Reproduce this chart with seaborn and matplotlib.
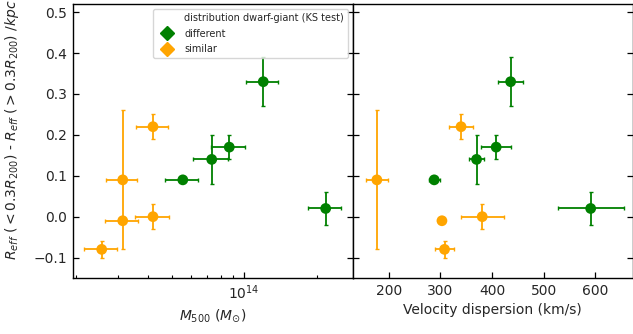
import numpy as np
import pandas as pd
import matplotlib
matplotlib.use("Agg")
import matplotlib.pyplot as plt
from matplotlib.lines import Line2D
from matplotlib.ticker import NullFormatter, LogLocator
import seaborn as sns

# ---- data ----
groups = ["different"] * 5 + ["similar"] * 5
delta_reff = [0.09, 0.14, 0.17, 0.33, 0.02, -0.08, 0.09, -0.01, 0.22, 0.00]
delta_reff_err = [0.004, 0.06, 0.03, 0.06, 0.04, 0.02, 0.17, 0.0, 0.03, 0.03]
m500 = [5.56e13, 7.33e13, 8.67e13, 1.20e14, 2.18e14,
        2.56e13, 3.13e13, 3.13e13, 4.18e13, 4.18e13]
m500_err = [0.86e13, 1.2e13, 1.38e13, 1.8e13, 3.4e13,
            0.39e13, 0.47e13, 0.48e13, 0.64e13, 0.67e13]
veldisp = [288, 370, 408, 436, 591, 308, 177, 303, 340, 381]
veldisp_err = [11, 15, 29, 24, 64, 18, 22, 0, 23, 42]

palette = {"different": "green", "similar": "orange"}
legend_title = "distribution dwarf-giant (KS test)"

df = pd.DataFrame({"KS": groups, "dy": delta_reff, "dyerr": delta_reff_err,
                   "m500": m500, "m500err": m500_err,
                   "vel": veldisp, "velerr": veldisp_err})

sns.set_style("white")
plt.rcParams["font.family"] = ["DejaVu Sans"]
plt.rcParams["mathtext.fontset"] = "dejavusans"

fig, (ax1, ax2) = plt.subplots(1, 2, figsize=(6.33, 3.34), dpi=100, sharey=True)
fig.subplots_adjust(left=72.7 / 633, right=632.5 / 633, top=1 - 4 / 334,
                    bottom=1 - 278 / 334, wspace=0)

for ax, xcol, xerr in [(ax1, "m500", "m500err"), (ax2, "vel", "velerr")]:
    for g, sub in df.groupby("KS"):
        ax.errorbar(sub[xcol], sub["dy"], xerr=sub[xerr], yerr=sub["dyerr"],
                    fmt="none", ecolor=palette[g], elinewidth=1.3, capsize=1.6,
                    capthick=1.0, zorder=2)
    sns.scatterplot(data=df, x=xcol, y="dy", hue="KS", palette=palette,
                    s=60, linewidth=0, ax=ax, legend=False, zorder=3)

ax1.set_xscale("log")
ax1.set_xlim(1.94e13, 2.82e14)
ax1.xaxis.set_minor_locator(LogLocator(base=10, subs=np.arange(2, 10)))
ax1.xaxis.set_minor_formatter(NullFormatter())
ax1.set_ylim(-0.15, 0.52)
ax1.set_yticks([-0.1, 0.0, 0.1, 0.2, 0.3, 0.4, 0.5])
ax2.set_xlim(130, 672)
ax2.set_xticks([200, 300, 400, 500, 600])

ax1.set_xlabel(r"$M_{500}$ ($M_{\odot}$)", fontsize=10)
ax2.set_xlabel("Velocity dispersion (km/s)", fontsize=10)
ax2.set_ylabel("")
ax1.set_ylabel(r"$R_{eff}$ ($<0.3R_{200}$) - $R_{eff}$ ($>0.3R_{200}$) /$kpc$",
               fontsize=10)
ax1.yaxis.label.set_ha("left")
ax1.yaxis.set_label_coords(-0.185, 0.065)

for ax in (ax1, ax2):
    for sp in ax.spines.values():
        sp.set_color("black")
        sp.set_linewidth(1.0)
    ax.tick_params(axis="both", which="major", direction="in", length=4.5,
                   width=0.9, color="black", labelsize=10, left=True,
                   right=True, bottom=True, top=False, pad=4)
    ax.tick_params(axis="both", which="minor", direction="in", length=2.5,
                   width=0.8, color="black", left=False, right=False,
                   bottom=True, top=False)
ax1.tick_params(axis="y", which="minor", left=False, right=False)
ax2.tick_params(axis="y", labelleft=False)

handles = [Line2D([], [], linestyle="", marker="", label=legend_title)]
for g in ["different", "similar"]:
    handles.append(Line2D([], [], linestyle="", marker="D", markersize=7,
                          color=palette[g], label=g))
ax1.legend(handles=handles, loc="upper right", fontsize=7, frameon=True,
           handletextpad=0.8, handlelength=2.0, borderpad=0.4,
           labelspacing=0.6)

fig.savefig("out.png", dpi=100)
